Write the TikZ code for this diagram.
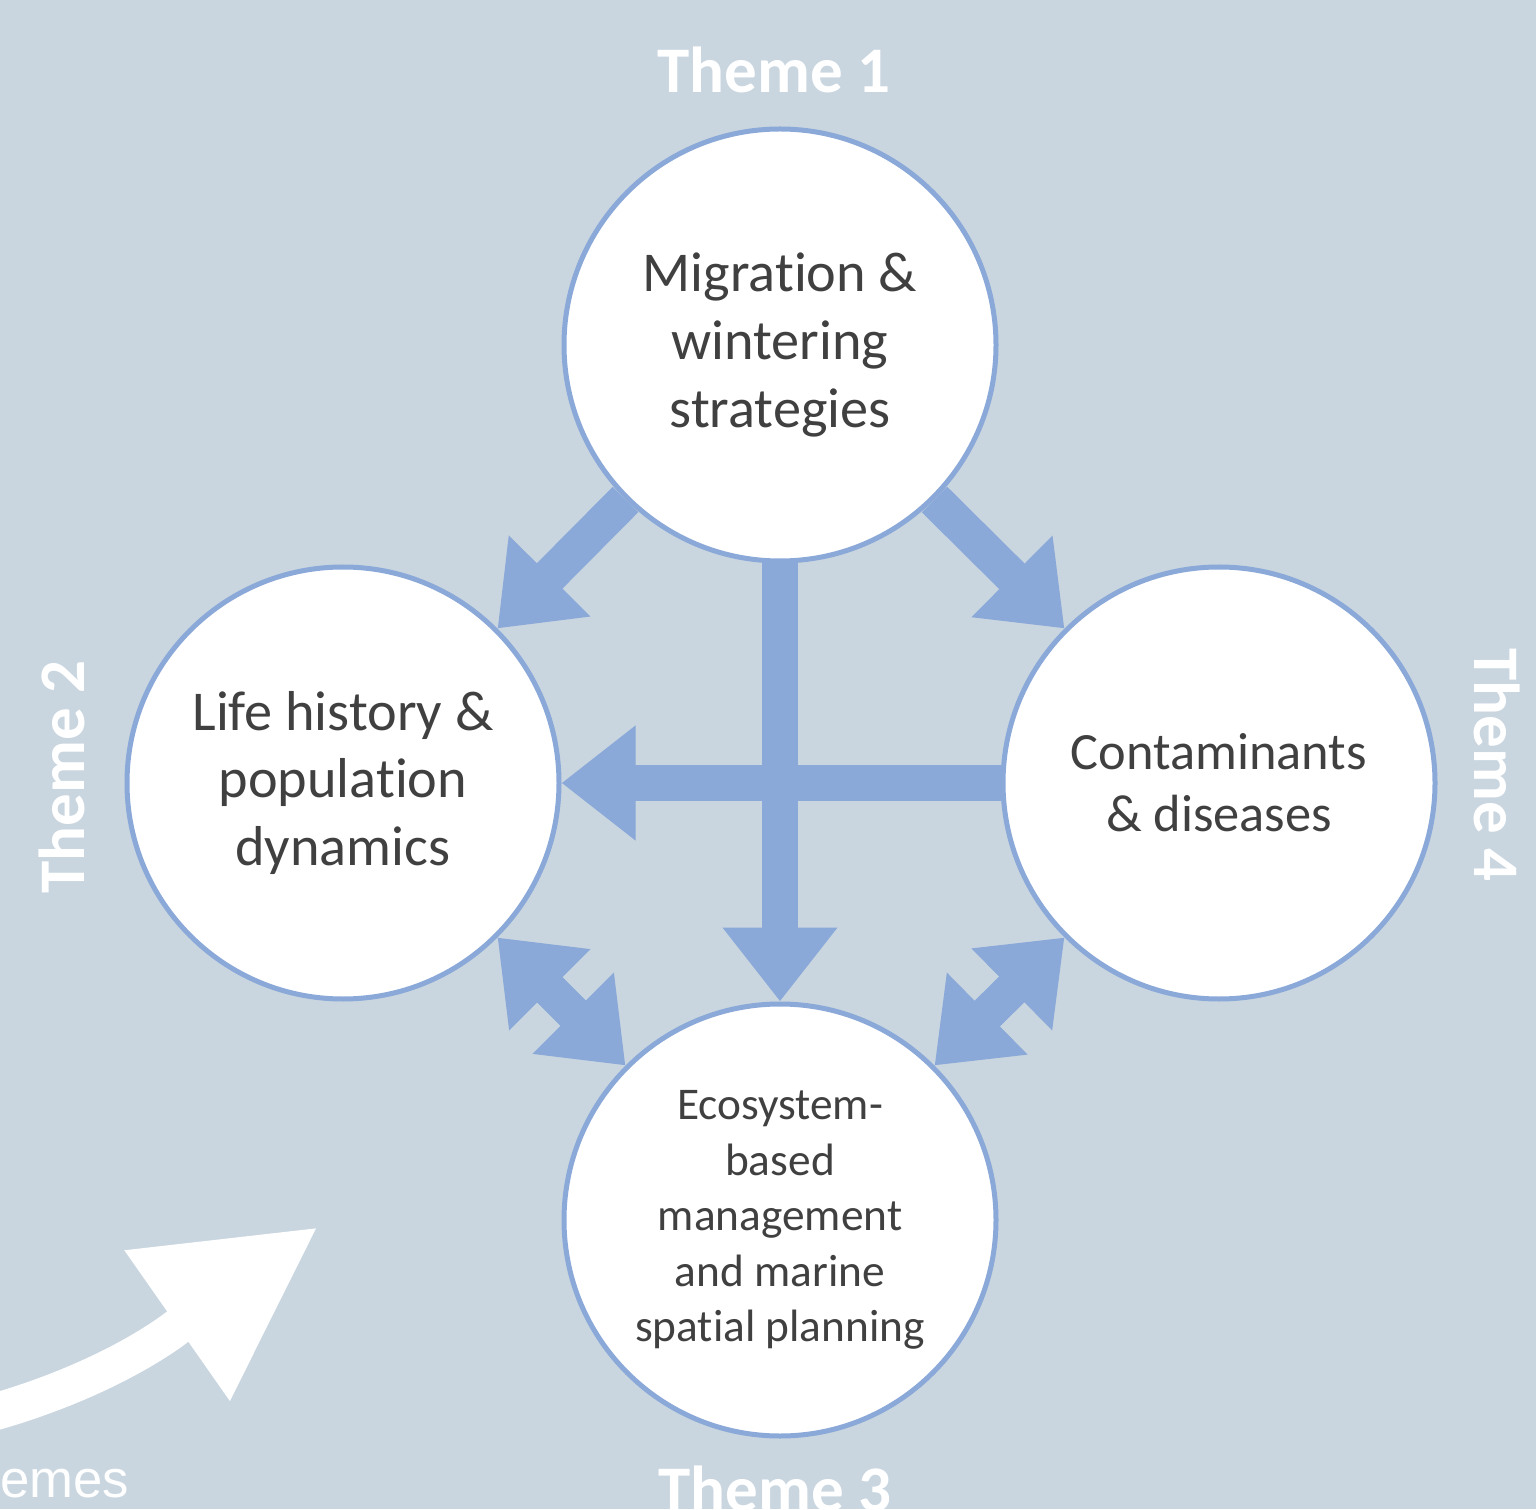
\documentclass[tikz,border=0pt]{standalone}
\usepackage{fontspec}
\setmainfont{Carlito}[Ligatures = NoCommon]
\newfontfamily\arialfont{Liberation Sans}
\usetikzlibrary{arrows.meta}
\definecolor{bg}{RGB}{201,214,224}
\definecolor{edge}{RGB}{138,168,216}
\definecolor{txt}{RGB}{64,64,64}
\tikzset{topic/.style = {circle, draw = edge, line width = 0.05cm, fill = white, minimum size = 4.32cm, inner sep = 0, align = center, text = txt}}
\tikzset{link/.style = {draw = edge, line width = 0.36cm, -{Triangle[width = 1.1cm, length = 0.74cm]}}}
\tikzset{twolink/.style = {link, {Triangle[width = 1.1cm, length = 0.74cm]}-{Triangle[width = 1.1cm, length = 0.74cm]}}}
\tikzset{title/.style = {text = white, font = \fontsize{18.5}{22}\selectfont\bfseries}}

\begin{document}
\begin{tikzpicture}
  \useasboundingbox (0, 0) rectangle (15.36, 15.09);
  \fill [bg] (0, 0) rectangle (15.36, 15.09);
  \node [topic, font = \fontsize{16}{19.3}\selectfont] (mig) at (7.80, 11.64) {Migration \&\\wintering\\strategies};
  \node [topic, font = \fontsize{16}{19.3}\selectfont] (life) at (3.43, 7.26) {Life history \&\\population\\dynamics};
  \node [topic, font = \fontsize{14.9}{17.6}\selectfont] (cont) at (12.19, 7.26) {Contaminants\\\& diseases};
  \node [topic, font = \fontsize{12.9}{15.8}\selectfont] (eco) at (7.80, 2.89) {Ecosystem-\\based\\management\\and marine\\spatial planning};
  \draw [link] (mig.225) -- (life.45);
  \draw [link] (mig.-45) -- (cont.135);
  \draw [link] (cont.west) -- (life.east);
  \draw [link] (mig.south) -- (eco.north);
  \draw [twolink] (life.-45) -- (eco.135);
  \draw [twolink] (cont.225) -- (eco.45);
  \node [title, anchor = base] (t1) at (7.74, 14.16) {Theme 1};
  \node [title, rotate = 90] (t2) at (0.62, 7.32) {Theme 2};
  \node [title, anchor = base] (t3) at (7.75, -0.02) {Theme 3};
  \node [title, rotate = -90] (t4) at (14.97, 7.44) {Theme 4};
  \coordinate (start) at (-0.2, 0.93);
  \coordinate (tip) at (3.18, 2.82);
  \draw [white, line width = 0.37cm, -{Triangle[width = 1.73cm, length = 1.72cm]}] (start) to [out = 15, in = 215] (tip);
  \node [text = white, font = \arialfont\fontsize{15}{18}\selectfont, anchor = base east, inner sep = 0] (more) at (1.30, 0.12) {hemes};
\end{tikzpicture}
\end{document}
